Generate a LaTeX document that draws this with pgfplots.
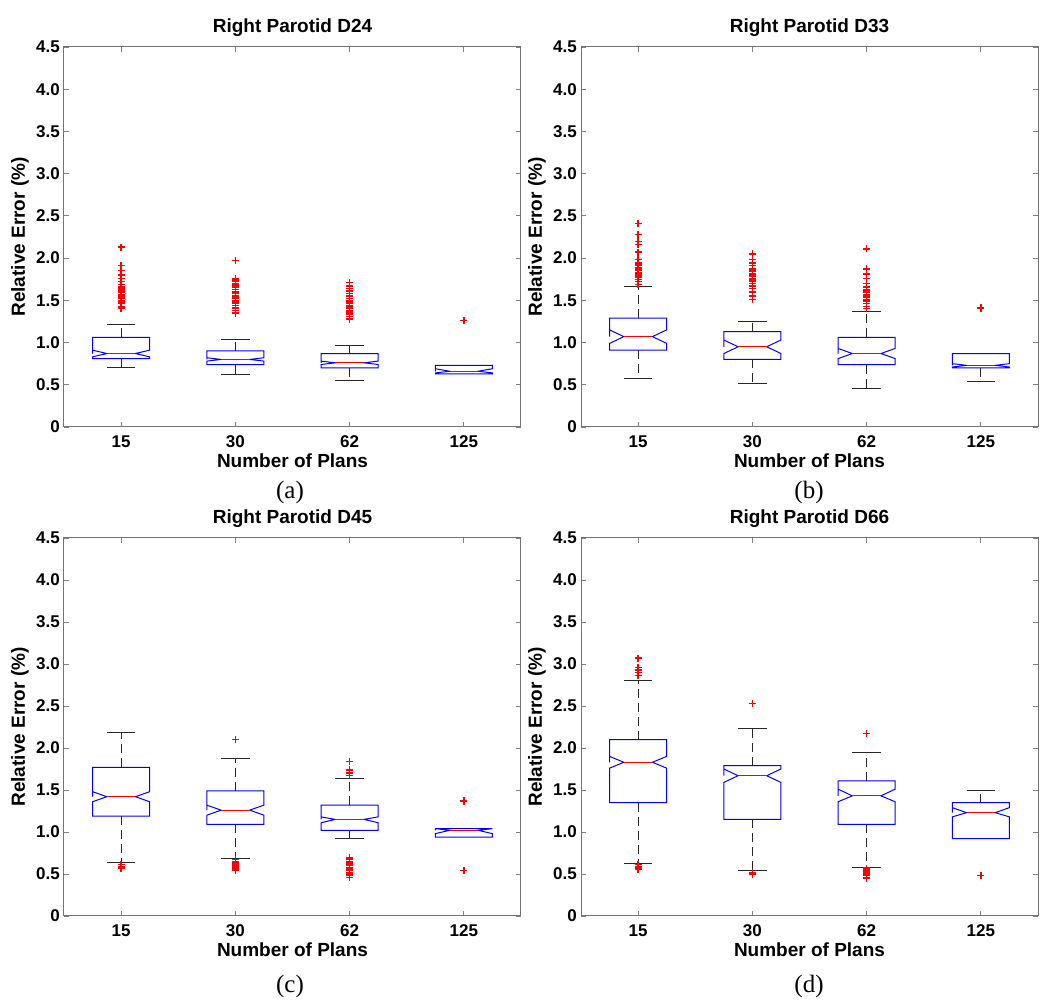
\documentclass[border=0pt]{standalone}
\usepackage{pgfplots}
\pgfplotsset{compat=1.18}
\usepackage{fontspec}
\setmainfont{Liberation Sans}
\newfontfamily\capfont{Liberation Serif}

\pgfdeclareplotmark{rplus}{%
  \pgfsetstrokecolor{red}%
  \pgfsetlinewidth{1.4pt}%
  \pgfpathmoveto{\pgfqpoint{-3.6pt}{0pt}}\pgfpathlineto{\pgfqpoint{3.6pt}{0pt}}%
  \pgfpathmoveto{\pgfqpoint{0pt}{-3.6pt}}\pgfpathlineto{\pgfqpoint{0pt}{3.6pt}}%
  \pgfusepathqstroke}

\pgfplotsset{
  whisk/.style={black!85, line width=0.9pt, dash pattern=on 9pt off 5pt, forget plot},
  cap/.style={black!85, line width=0.9pt, forget plot},
  boxl/.style={blue, line width=1pt, line join=miter, forget plot},
  medl/.style={red, line width=1.2pt, forget plot},
  outl/.style={only marks, mark=rplus, color=red, forget plot},
  panel/.style={
    scale only axis, width=457pt,
    xmin=0.5, xmax=4.5, ymin=0, ymax=4.5,
    xtick={1,2,3,4}, xticklabels={15,30,62,125},
    ytick={0,0.5,1,1.5,2,2.5,3,3.5,4,4.5},
    yticklabels={0,0.5,1.0,1.5,2.0,2.5,3.0,3.5,4.0,4.5},
    tick align=inside, major tick length=5pt,
    tick style={black!50, line width=0.8pt},
    axis line style={black!55, line width=1pt},
    ticklabel style={font=\fontsize{17}{17}\selectfont\bfseries},
    xticklabel style={anchor=base, yshift=-21pt, inner sep=0pt},
    yticklabel style={anchor=east, inner sep=0pt, xshift=-4pt},
    title style={at={(0.5,1)}, anchor=base, yshift=8pt, inner sep=0pt, font=\fontsize{19}{19}\selectfont\bfseries},
    xlabel style={at={(axis description cs:0.5,0)}, anchor=base, yshift=-41pt, inner sep=0pt, font=\fontsize{19}{19}\selectfont\bfseries},
    ylabel style={at={(axis description cs:0,0.5)}, rotate=0, anchor=center, yshift=44pt, inner sep=0pt, font=\fontsize{19}{19}\selectfont\bfseries},
    xlabel={Number of Plans}, ylabel={Relative Error (\%)},
  }
}

% #1 pos, #2 lower whisker, #3 q1, #4 notch low, #5 median, #6 notch high, #7 q3, #8 upper whisker
\newcommand{\nbox}[8]{%
  \pgfmathsetmacro\xa{#1-0.25}%
  \pgfmathsetmacro\xb{#1+0.25}%
  \pgfmathsetmacro\xc{#1-0.125}%
  \pgfmathsetmacro\xd{#1+0.125}%
  \pgfmathtruncatemacro\hasup{#8>#7}%
  \pgfmathtruncatemacro\haslo{#3>#2}%
  \ifnum\hasup=1
    \edef\tmp{%
      \noexpand\addplot[whisk] coordinates {(#1,#7) (#1,#8)};
      \noexpand\addplot[cap] coordinates {(\xc,#8) (\xd,#8)};
    }\tmp
  \fi
  \ifnum\haslo=1
    \edef\tmp{%
      \noexpand\addplot[whisk] coordinates {(#1,#3) (#1,#2)};
      \noexpand\addplot[cap] coordinates {(\xc,#2) (\xd,#2)};
    }\tmp
  \fi
  \edef\tmp{%
    \noexpand\addplot[boxl] coordinates {(\xa,#5) (\xa,#6) (\xa,#7) (\xb,#7) (\xb,#6) (\xd,#5) (\xb,#4) (\xb,#3) (\xa,#3) (\xa,#4) (\xc,#5) (\xa,#6)};
    \noexpand\addplot[medl] coordinates {(\xc,#5) (\xd,#5)};
  }\tmp}

\newcommand{\capfontsize}{\capfont\fontsize{25}{25}\selectfont}

\begin{document}
\begin{tikzpicture}[x=1pt,y=1pt]
\useasboundingbox (0,0) rectangle (1050,1003);

% (a)
\begin{axis}[panel, at={(64pt,576pt)}, anchor=south west, height=380pt, title={Right Parotid D24}]
\nbox{1}{0.70}{0.81}{0.83}{0.87}{0.91}{1.06}{1.21}
\nbox{2}{0.62}{0.74}{0.78}{0.80}{0.82}{0.90}{1.04}
\nbox{3}{0.55}{0.70}{0.74}{0.76}{0.78}{0.87}{0.97}
\nbox{4}{0.63}{0.63}{0.64}{0.66}{0.69}{0.73}{0.73}
\addplot[outl] coordinates {(1,2.13) (1,1.91) (1,1.85) (1,1.80) (1,1.76) (1,1.72) (1,1.69) (1,1.66) (1,1.64) (1,1.62) (1,1.60) (1,1.59) (1,1.57) (1,1.56) (1,1.55) (1,1.54) (1,1.53) (1,1.52) (1,1.50) (1,1.48) (1,1.46) (1,1.43) (1,1.41)};
\addplot[outl] coordinates {(2,1.97) (2,1.76) (2,1.74) (2,1.72) (2,1.70) (2,1.68) (2,1.66) (2,1.63) (2,1.60) (2,1.58) (2,1.56) (2,1.54) (2,1.52) (2,1.50) (2,1.48) (2,1.46) (2,1.44) (2,1.41) (2,1.38) (2,1.35)};
\addplot[outl] coordinates {(3,1.71) (3,1.67) (3,1.64) (3,1.61) (3,1.58) (3,1.55) (3,1.52) (3,1.50) (3,1.48) (3,1.46) (3,1.44) (3,1.42) (3,1.40) (3,1.38) (3,1.36) (3,1.34) (3,1.31) (3,1.28)};
\addplot[outl] coordinates {(4,1.26)};
\end{axis}

% (b)
\begin{axis}[panel, at={(581pt,576pt)}, anchor=south west, height=380pt, title={Right Parotid D33}]
\nbox{1}{0.57}{0.91}{0.99}{1.07}{1.15}{1.29}{1.66}
\nbox{2}{0.52}{0.80}{0.87}{0.95}{1.03}{1.13}{1.25}
\nbox{3}{0.46}{0.74}{0.81}{0.87}{0.93}{1.06}{1.37}
\nbox{4}{0.54}{0.70}{0.71}{0.73}{0.75}{0.87}{0.87}
\addplot[outl] coordinates {(1,2.41) (1,2.28) (1,2.20) (1,2.16) (1,2.07) (1,1.98) (1,1.95) (1,1.93) (1,1.91) (1,1.89) (1,1.87) (1,1.85) (1,1.83) (1,1.81) (1,1.79) (1,1.77) (1,1.75) (1,1.72) (1,1.69)};
\addplot[outl] coordinates {(2,2.05) (2,1.98) (2,1.94) (2,1.91) (2,1.88) (2,1.86) (2,1.84) (2,1.82) (2,1.80) (2,1.78) (2,1.76) (2,1.74) (2,1.72) (2,1.70) (2,1.67) (2,1.64) (2,1.60) (2,1.55) (2,1.51)};
\addplot[outl] coordinates {(3,2.11) (3,1.87) (3,1.81) (3,1.76) (3,1.70) (3,1.66) (3,1.63) (3,1.61) (3,1.59) (3,1.57) (3,1.55) (3,1.53) (3,1.51) (3,1.49) (3,1.46) (3,1.43) (3,1.40)};
\addplot[outl] coordinates {(4,1.41)};
\end{axis}

% (c)
\begin{axis}[panel, at={(64pt,87pt)}, anchor=south west, height=378pt, title={Right Parotid D45}]
\nbox{1}{0.64}{1.19}{1.36}{1.42}{1.48}{1.77}{2.19}
\nbox{2}{0.69}{1.09}{1.20}{1.26}{1.32}{1.49}{1.87}
\nbox{3}{0.92}{1.02}{1.11}{1.15}{1.18}{1.32}{1.64}
\nbox{4}{0.94}{0.94}{0.98}{1.02}{1.04}{1.04}{1.04}
\addplot[outl] coordinates {(1,0.61) (1,0.59) (1,0.57)};
\addplot[outl] coordinates {(2,2.10) (2,0.67) (2,0.65) (2,0.63) (2,0.62) (2,0.61) (2,0.60) (2,0.59) (2,0.58) (2,0.57) (2,0.56) (2,0.55) (2,0.54)};
\addplot[outl] coordinates {(3,1.84) (3,1.74) (3,1.70) (3,1.67) (3,0.69) (3,0.67) (3,0.65) (3,0.63) (3,0.62) (3,0.61) (3,0.60) (3,0.58) (3,0.57) (3,0.56) (3,0.55) (3,0.54) (3,0.52) (3,0.50) (3,0.48) (3,0.46)};
\addplot[outl] coordinates {(4,1.37) (4,0.54)};
\end{axis}

% (d)
\begin{axis}[panel, at={(581pt,87pt)}, anchor=south west, height=378pt, title={Right Parotid D66}]
\nbox{1}{0.62}{1.35}{1.76}{1.83}{1.90}{2.10}{2.80}
\nbox{2}{0.54}{1.15}{1.59}{1.67}{1.75}{1.79}{2.23}
\nbox{3}{0.58}{1.09}{1.36}{1.43}{1.51}{1.61}{1.95}
\nbox{4}{0.92}{0.92}{1.18}{1.23}{1.29}{1.35}{1.49}
\addplot[outl] coordinates {(1,3.07) (1,2.96) (1,2.93) (1,2.90) (1,2.86) (1,0.61) (1,0.59) (1,0.57) (1,0.55)};
\addplot[outl] coordinates {(2,2.53) (2,0.52) (2,0.50)};
\addplot[outl] coordinates {(3,2.17) (3,0.57) (3,0.55) (3,0.54) (3,0.53) (3,0.52) (3,0.50) (3,0.48) (3,0.45)};
\addplot[outl] coordinates {(4,0.48)};
\end{axis}

\node[font=\capfontsize, anchor=base] at (290,504) {(a)};
\node[font=\capfontsize, anchor=base] at (809,504) {(b)};
\node[font=\capfontsize, anchor=base] at (290,10) {(c)};
\node[font=\capfontsize, anchor=base] at (809,10) {(d)};
\end{tikzpicture}
\end{document}
